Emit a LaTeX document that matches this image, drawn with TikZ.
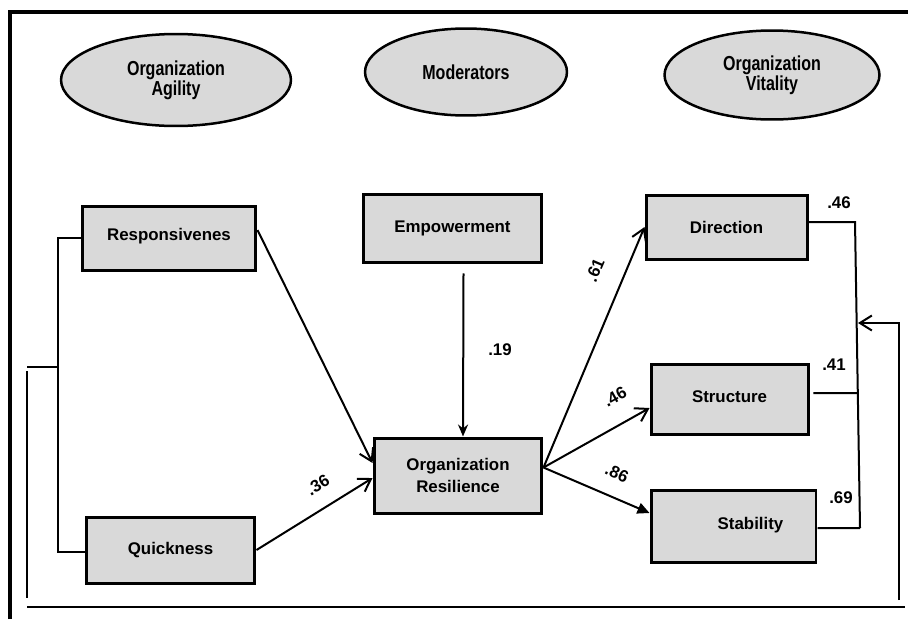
\documentclass[tikz,border=0pt]{standalone}
\usepackage{fontspec}
\setmainfont{Liberation Sans}
\usetikzlibrary{arrows.meta,shapes.geometric}
\definecolor{boxgray}{HTML}{D9D9D9}
\newcommand{\lblfont}{\fontsize{9.6}{12}\selectfont\bfseries}
\newcommand{\tall}[1]{\scalebox{0.95}[1.2]{#1}}

\begin{document}
\begin{tikzpicture}[x=0.02cm, y=-0.02cm,
		box/.style={draw, line width=0.6mm, fill=boxgray, inner sep=0pt, font=\lblfont, align=center},
		oval/.style={ellipse, draw, line width=0.5mm, fill=boxgray, inner sep=0pt, font=\fontsize{9.6}{11.5}\selectfont\bfseries, align=center},
		conn/.style={line width=0.4mm},
		barb/.style={-{Straight Barb[length=2.4mm,width=3mm]}},
		coef/.style={font=\lblfont, inner sep=0pt}]
			%%%%% START %%%%%
			\useasboundingbox (0,0) rectangle (908,619);
			
			\draw[line width=0.7mm] (10,619) -- (10,12) -- (908,12);
			
			\node[oval, minimum width=4.6cm, minimum height=1.84cm] (agil) at (176,80) {\tall{Organization}\\\tall{Agility}};
			\node[oval, minimum width=4.04cm, minimum height=1.74cm] (mod) at (466,72) {\tall{Moderators}};
			\node[oval, minimum width=4.3cm, minimum height=1.78cm] (vital) at (772,75) {\tall{Organization}\\\tall{Vitality}};
			
			\node[box, minimum width=3.48cm, minimum height=1.28cm] (resp) at (169,238) {\raisebox{4pt}{Responsivenes}};
			\node[box, minimum width=3.38cm, minimum height=1.32cm] (quick) at (170.5,550) {Quickness};
			\node[box, minimum width=3.58cm, minimum height=1.36cm] (emp) at (452.5,228) {Empowerment};
			\node[box, minimum width=3.36cm, minimum height=1.5cm] (res) at (458,475.5) {Organization\\Resilience};
			
			\node[box, minimum width=3.22cm, minimum height=1.28cm] (dir) at (726.5,227) {Direction};
			\node[box, minimum width=3.14cm, minimum height=1.4cm] (struc) at (729.5,399) {\raisebox{3pt}{Structure}};
			\node[box, minimum width=3.3cm, minimum height=1.44cm] (stab) at (733.5,526) {\hspace*{0.68cm}\raisebox{3pt}{Stability}};
			
			\draw[conn, barb] ([yshift=0.16cm]resp.east) -- ([yshift=0.25cm]res.west);
			\draw[conn, barb] (quick.east) -- ([yshift=-0.05cm]res.west);
			\draw[conn, -{Stealth[length=2.4mm,width=2mm]}] ([xshift=0.22cm,yshift=-0.2cm]emp.south) -- ([xshift=0.1cm]res.north);
			
			\draw[conn, barb] ([yshift=0.16cm]res.east) -- (dir.west);
			\draw[conn, barb] ([yshift=0.16cm]res.east) -- ([yshift=-0.18cm]struc.west);
			\draw[conn, -{Triangle[length=2.4mm,width=2.2mm]}] ([yshift=0.16cm]res.east) -- ([yshift=0.26cm]stab.west);
			
			\node[coef, rotate=31] (c36) at (318,485) {.36};
			\node[coef] (c19) at (500,350) {.19};
			\node[coef, rotate=67] (c61) at (595,270) {.61};
			\node[coef, rotate=29] (c46a) at (615,397) {.46};
			\node[coef, rotate=-25] (c86) at (617,473) {.86};
			\node[coef] (c46b) at (839,203) {.46};
			\node[coef] (c41) at (834,365) {.41};
			\node[coef] (c69) at (841,498) {.69};
			
			% right bracket and feedback
			\coordinate (rtop) at (855,222);
			\coordinate (rmid) at (857,393);
			\coordinate (rbot) at (860,528);
			\draw[conn] ([yshift=0.1cm]dir.east) -- (rtop) -- (rbot);
			\draw[conn] ([xshift=0.08cm,yshift=0.12cm]struc.east) -- (rmid);
			\draw[conn] ([yshift=-0.04cm]stab.east) -- (rbot);
			
			\coordinate (fbstart) at (899,600);
			\coordinate (fbend) at (858,323);
			\draw[conn, barb] (fbstart) |- (fbend);
			
			% left bracket
			\coordinate (ljoin) at (58,367);
			\coordinate (lend) at (27,367);
			\coordinate (ltop) at (27,371);
			\coordinate (lbot) at (27,598);
			\draw[conn] (resp.west) -| (ljoin) |- ([yshift=-0.04cm]quick.west);
			\draw[conn] (ljoin) -- (lend);
			\draw[conn] (ltop) -- (lbot);
			
			\coordinate (bleft) at (27,607);
			\coordinate (bright) at (905,607);
			\draw[line width=0.5mm] (bleft) -- (bright);
			
			%%%%% END %%%%%
		\end{tikzpicture}
\end{document}
